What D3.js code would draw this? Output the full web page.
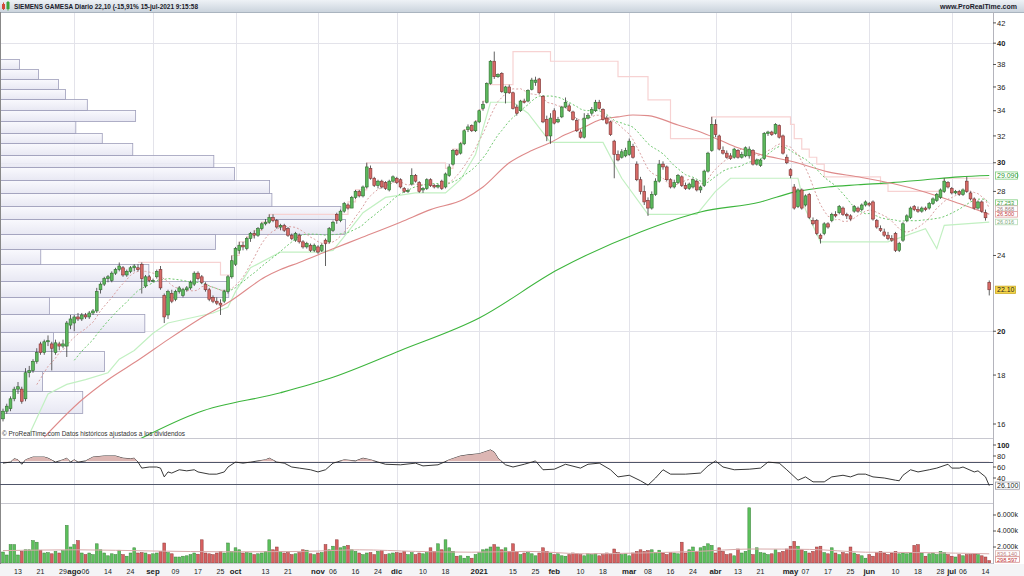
<!DOCTYPE html>
<html><head><meta charset="utf-8">
<script src="https://cdn.jsdelivr.net/npm/d3@7"></script>
<style>
body{margin:0;background:#fff;}
svg{display:block;font-family:"Liberation Sans",Arial,sans-serif;}
</style></head><body>
<svg id="c" width="1024" height="576"></svg>
<script>
// ---------------- DATA ----------------
const titleText = "SIEMENS GAMESA Diario 22,10 (-15,91% 15-jul-2021 9:15:58";
const siteText = "www.ProRealTime.com";
const noteText = "\u00a9 ProRealTime.com  Datos hist\u00f3ricos ajustados a los dividendos";
const holidays = ["2020-12-25","2021-01-01","2021-04-02","2021-04-05"];
const firstDay = "2020-07-07", lastDay = "2021-07-15";

const open = [
16.2,16.5,16.6,17.0,17.4,17.4,17.0,18.1,18.2,18.6,
19.4,19.0,19.5,19.4,19.0,19.4,19.3,19.3,20.3,20.4,
20.7,20.6,20.8,20.7,20.9,21.0,22.1,22.4,22.7,22.6,
23.0,23.2,23.3,22.9,23.1,23.3,23.3,23.5,22.3,22.8,
22.6,22.8,23.2,21.8,20.8,21.9,21.6,22.0,21.8,22.1,
22.2,22.4,23.0,22.8,22.4,22.1,21.7,21.5,21.4,21.5,
22.0,22.8,23.5,24.3,24.6,24.4,25.0,25.3,25.2,25.6,
25.9,26.0,26.3,26.1,25.7,25.8,25.6,25.2,24.9,25.2,
24.8,24.5,24.6,24.3,24.5,24.3,24.9,24.8,25.5,26.5,
26.1,26.7,27.1,26.9,27.6,28.0,27.7,28.3,29.6,28.9,
28.4,28.7,28.6,28.1,28.7,28.9,28.8,28.2,28.0,28.5,
29.1,28.6,28.1,28.2,28.8,28.4,28.3,28.7,28.3,29.1,
29.9,30.9,30.7,31.4,32.5,32.8,32.4,33.1,34.2,34.7,
36.3,38.3,36.9,37.2,35.5,36.0,35.5,34.3,34.0,34.8,
34.8,35.8,36.4,36.7,35.2,33.3,32.0,34.0,33.1,33.5,
34.3,34.4,33.9,33.2,32.3,31.9,33.4,33.8,34.0,34.7,
34.1,33.4,33.1,31.6,30.6,30.4,30.5,30.6,31.2,29.9,
28.8,28.0,27.4,26.9,27.8,28.7,29.9,29.7,28.8,28.3,
28.6,29.0,28.4,28.2,28.3,28.7,28.1,28.4,29.4,30.9,
32.9,32.0,30.9,30.7,30.5,30.4,30.9,30.4,30.5,30.5,
30.9,29.9,29.8,30.3,32.2,32.3,32.2,32.8,32.0,30.4,
29.5,28.3,27.0,28.1,27.1,27.8,26.1,26.1,25.2,25.3,
25.9,26.1,26.5,26.6,26.9,26.5,26.4,26.7,26.9,26.8,
27.1,27.2,27.3,26.1,25.6,25.4,25.2,25.0,25.3,24.3,
24.9,26.1,26.3,27.0,26.8,26.7,26.9,26.9,27.2,27.4,
27.6,28.0,28.6,28.2,27.9,28.0,27.8,28.7,27.9,27.5,
26.9,27.3,26.6,22.5];
const high = [
16.6,16.8,17.1,17.5,17.7,17.5,18.3,18.4,18.7,19.2,
19.5,19.6,19.8,19.5,19.6,19.5,19.6,20.5,20.8,20.8,
20.9,20.9,20.9,21.0,21.1,22.2,22.5,22.8,22.9,23.1,
23.3,23.6,23.4,23.2,23.4,23.5,23.5,23.6,22.9,22.9,
22.7,23.2,23.4,21.9,22.1,22.1,22.1,22.3,22.2,22.3,
22.6,23.1,23.1,22.9,22.5,22.2,21.8,21.7,21.6,22.1,
22.9,24.0,24.5,24.8,24.8,25.1,25.4,25.5,25.7,26.0,
26.2,26.5,26.5,26.2,25.9,25.9,25.7,25.3,25.4,25.3,
24.9,24.8,24.7,24.7,24.6,24.7,25.0,25.7,26.1,26.6,
26.8,27.3,27.2,27.7,28.1,28.1,28.4,30.0,29.8,29.0,
28.8,28.8,28.7,28.8,29.1,29.0,28.9,28.3,28.2,29.6,
29.2,28.7,28.3,28.9,28.9,28.5,28.5,28.8,29.3,29.9,
31.0,31.0,31.5,32.5,32.9,32.9,33.2,34.1,34.8,36.4,
38.4,39.2,37.2,37.3,36.1,36.2,35.6,34.5,34.9,35.0,
35.8,36.8,36.9,36.8,35.3,33.6,33.8,34.2,33.5,34.4,
35.1,34.6,34.0,33.4,32.5,33.8,33.8,34.3,34.9,34.9,
34.2,33.6,33.2,31.7,30.9,31.0,31.1,31.8,31.4,30.1,
29.0,28.4,27.6,28.0,28.9,30.2,30.1,29.8,28.9,28.8,
29.2,29.1,28.6,28.6,28.9,28.8,28.4,29.5,30.8,33.5,
33.3,32.1,31.2,30.9,30.7,31.1,31.0,30.8,31.2,31.2,
31.0,30.3,30.3,32.3,32.4,32.4,33.0,32.9,32.1,30.6,
29.6,28.5,28.2,28.2,27.8,27.9,26.3,26.2,25.3,26.0,
26.0,26.6,26.7,27.1,27.0,26.6,26.5,27.1,27.0,27.2,
27.4,27.3,27.4,26.2,25.8,25.6,25.4,25.2,25.4,24.8,
26.0,26.5,27.0,27.1,27.0,27.0,27.0,27.3,27.6,27.9,
28.2,28.9,28.7,28.3,28.1,28.1,28.2,29.0,28.0,27.6,
27.4,27.4,26.8,22.6];
const low = [
16.1,16.4,16.5,16.9,17.2,16.8,16.9,17.9,18.1,18.5,
18.9,18.9,19.3,18.2,18.9,19.1,19.2,18.8,20.1,20.0,
20.5,20.5,20.6,20.6,20.8,20.9,21.9,22.3,22.5,22.5,
22.9,23.1,22.8,22.8,23.0,23.1,23.1,21.9,22.2,22.5,
22.5,22.7,22.1,20.4,20.6,21.4,21.5,21.9,21.7,22.0,
22.1,22.3,22.6,22.4,22.0,21.5,21.4,21.3,20.8,21.4,
21.9,22.7,23.4,24.1,24.3,24.3,24.8,25.0,25.1,25.5,
25.8,25.9,26.0,25.6,25.5,25.4,25.1,24.9,24.8,24.7,
24.4,24.4,24.2,24.2,24.1,24.2,23.4,24.7,25.4,25.9,
26.0,26.6,26.8,26.9,27.5,27.6,27.6,28.2,28.8,28.3,
28.2,28.2,28.1,28.0,28.6,28.5,28.2,27.9,27.9,28.4,
28.6,27.9,27.9,28.1,28.3,28.2,28.2,28.1,28.2,29.0,
29.8,30.5,30.6,31.3,32.3,32.3,32.3,33.0,34.0,34.6,
36.2,36.7,36.8,35.5,34.6,35.4,34.1,33.6,33.9,34.6,
34.7,35.7,36.1,35.4,33.0,31.6,31.4,32.9,33.0,33.4,
34.2,33.9,33.2,32.3,31.8,31.8,33.3,33.6,33.9,34.1,
33.2,32.9,32.0,28.9,30.1,30.3,30.4,30.5,30.3,28.7,
27.8,27.1,26.4,26.8,27.7,28.6,29.5,28.7,28.2,28.2,
28.5,28.3,28.1,28.1,28.2,28.0,27.9,28.3,29.3,30.8,
31.9,30.9,30.6,30.3,30.2,30.3,30.3,30.3,30.4,30.3,
29.8,29.8,29.7,30.2,32.0,32.0,32.1,31.8,30.6,29.9,
28.9,26.8,26.9,26.8,27.0,26.2,25.8,25.2,24.7,25.2,
25.6,26.0,26.3,26.5,26.4,26.2,26.1,26.6,26.6,26.7,
27.0,27.0,26.1,25.6,25.4,25.1,24.9,24.8,24.2,24.2,
24.8,26.0,26.2,26.7,26.6,26.6,26.7,26.8,27.1,27.3,
27.5,27.9,28.2,27.8,27.8,27.7,27.7,27.9,27.4,26.8,
26.8,26.6,26.1,21.8];
const close = [
16.5,16.7,17.0,17.4,17.5,16.9,18.1,18.2,18.6,19.0,
19.0,19.5,19.55,19.2,19.45,19.3,19.4,20.4,20.6,20.7,
20.6,20.8,20.7,20.9,21.0,22.0,22.4,22.7,22.8,23.0,
23.2,23.4,22.9,23.1,23.3,23.4,23.2,22.7,22.8,22.6,
22.6,23.1,22.2,20.7,22.0,21.5,22.0,22.2,22.1,22.2,
22.5,23.0,22.7,22.5,22.1,21.6,21.5,21.4,21.3,22.0,
22.8,23.7,24.4,24.6,24.5,25.0,25.3,25.2,25.6,25.9,
26.0,26.3,26.1,25.7,25.8,25.5,25.2,25.0,25.3,24.8,
24.5,24.7,24.3,24.6,24.2,24.6,24.7,25.6,26.0,26.1,
26.7,27.2,26.9,27.6,28.0,27.7,28.3,29.7,28.9,28.4,
28.7,28.3,28.2,28.7,29.0,28.6,28.3,28.0,28.05,29.1,
28.7,28.0,28.2,28.8,28.4,28.3,28.4,28.2,29.2,29.7,
30.9,30.6,31.4,32.4,32.7,32.4,33.1,34.0,34.5,36.3,
38.3,36.9,37.1,35.6,36.0,35.5,34.2,33.8,34.8,34.7,
35.7,36.6,36.6,35.5,33.1,32.0,33.4,33.0,33.3,34.3,
34.7,34.0,33.3,32.4,31.9,33.4,33.6,34.1,34.7,34.2,
33.3,33.0,32.1,30.6,30.2,30.8,30.9,31.6,30.4,28.8,
28.0,27.3,26.9,27.8,28.7,29.9,29.7,28.8,28.3,28.6,
29.1,28.4,28.2,28.5,28.8,28.1,28.3,29.4,30.7,32.9,
32.1,31.0,30.7,30.4,30.3,31.0,30.4,30.6,31.1,31.0,
29.9,30.2,30.2,32.2,32.3,32.1,32.9,31.9,30.7,30.0,
29.1,26.9,28.1,26.9,27.7,26.3,25.9,25.3,25.0,25.9,
25.7,26.5,26.4,27.0,26.5,26.4,26.2,27.0,26.7,27.1,
27.3,27.1,26.2,25.7,25.5,25.2,25.0,24.9,24.3,24.7,
25.9,26.4,26.9,26.8,26.7,26.9,26.8,27.2,27.5,27.8,
28.1,28.7,28.3,27.9,28.0,27.8,28.1,28.0,27.5,26.9,
27.3,26.7,26.28,22.1];
// volume in thousands
const volume = [
1370,1000,2300,2300,1000,1450,1650,1650,2800,2600,
1600,1250,1300,1150,1450,1250,1550,4700,2000,2300,
2800,1250,1050,1250,1050,2400,1650,1250,900,1150,
1050,1600,1050,850,1250,1900,1250,1300,1250,1050,
1150,1250,1450,2500,1300,1150,750,750,850,900,
1050,1250,1100,2900,1250,1150,1050,1250,1450,1250,
2500,1450,1900,1650,1250,1300,1250,1050,1150,1250,
1450,2900,1650,2000,1450,1250,1300,1050,1150,1300,
1650,1600,1150,1050,1250,1300,2300,1650,2100,2900,
1900,2100,2200,1650,1450,1250,1050,1250,1300,1050,
1450,1550,1050,1150,1250,1300,1250,1450,1050,1300,
1050,1250,1150,1300,1900,1450,2400,1650,2900,1900,
1450,850,900,600,850,600,1050,1300,1650,1750,
2000,2300,2000,1650,1900,1450,2400,1450,1050,1250,
1300,1150,900,1250,1900,1450,1250,1050,1150,900,
850,1050,1250,1150,1050,900,1150,1050,1150,900,
1050,1250,1050,1750,1300,1050,1150,900,1250,1450,
1650,1450,1550,1650,1300,1600,1250,1050,1300,1250,
1150,2600,1250,1650,2000,1450,1900,2100,2400,2200,
1250,1900,1450,1050,1150,900,1750,1250,1450,6900,
1050,1900,1300,1250,1050,1150,1650,1300,1450,1750,
2100,2700,2100,1650,1450,1250,1450,2000,2100,1300,
1150,1900,1250,1050,1300,1150,2000,1250,1050,900,
600,1050,850,1300,1450,1250,1050,1250,1450,1150,
1250,1150,1250,2200,2300,1250,850,1150,1250,1050,
1450,1300,1050,850,750,1050,900,1050,1050,1150,
1050,900,750,298.597];

// Moving averages: [bar index, value]
const ma50Pts = [[11,15.5],[21,16.95],[28,17.8],[36,18.65],[44,19.6],[52,20.55],[61,21.55],[70,22.8],[74,23.2],[79,23.6],[87,24.3],[95,25.0],[106,26.0],[114,26.8],[123,27.5],[128,28.3],[135,30.0],[141,30.9],[146,31.5],[150,32.1],[155,32.7],[159,33.25],[164,33.5],[168,33.65],[172,33.6],[180,32.85],[186,32.3],[191,31.7],[196,31.1],[202,30.6],[211,30.05],[220,29.35],[228,29.0],[237,28.55],[246,27.95],[255,27.2],[263,26.5]];
const ma200Pts = [[36,15.4],[52,16.45],[74,17.25],[87,17.85],[106,19.1],[127,20.65],[148,23.2],[170,25.4],[186,26.65],[202,27.3],[211,27.95],[220,28.3],[228,28.45],[237,28.6],[246,28.8],[255,29.0],[263,29.09]];
const upperPts = [[36,23.6],[58,22.9],[61,24.0],[63,24.8],[65,25.1],[67,25.5],[69,26.0],[71,26.5],[91,26.5],[92,27.3],[94,28.1],[97,30.0],[117,30.0],[118,29.6],[120,31.0],[122,31.5],[123,32.5],[126,33.2],[127,34.1],[128,34.8],[129,36.2],[136,39.2],[145,39.2],[146,38.3],[163,38.3],[164,36.9],[171,36.9],[172,34.9],[177,34.9],[178,31.8],[188,31.8],[189,33.5],[209,33.5],[210,32.9],[211,31.8],[213,31.0],[215,30.4],[217,29.9],[219,29.0],[233,29.0],[234,28.5],[236,28.0],[250,28.0],[251,28.9],[263,28.9]];
const lowerPts = [[7,15.6],[12,17.2],[17,17.6],[22,17.8],[28,18.1],[31,18.7],[35,19.1],[40,19.9],[44,20.4],[56,20.9],[60,21.2],[62,22.0],[66,23.3],[74,24.2],[84,24.2],[88,24.3],[92,25.4],[96,26.6],[102,27.6],[110,27.9],[118,27.9],[122,28.8],[126,30.6],[130,34.7],[136,34.7],[140,33.8],[146,31.5],[160,31.5],[165,28.9],[172,26.5],[185,26.5],[190,28.0],[194,28.9],[212,28.9],[214,26.8],[218,24.8],[236,24.8],[246,25.6],[249,24.4],[251,25.8],[263,26.0]];
const rsiPts = [[0,67],[2,69],[3,75],[4,73],[5,65],[6,73],[8,78],[11,78],[12,76],[14,69],[16,73],[17,76],[18,69],[19,73],[20,69],[22,71],[24,78],[27,80],[30,80],[32,76],[34,75],[35,76],[36,69],[37,58],[39,60],[41,60],[42,58],[43,42],[44,51],[45,49],[47,55],[49,53],[51,55],[52,51],[55,47],[57,47],[59,51],[60,60],[62,69],[64,67],[66,69],[68,71],[70,73],[71,76],[73,69],[75,67],[77,60],[79,58],[82,55],[84,51],[86,55],[88,67],[91,73],[94,71],[96,76],[98,73],[102,65],[106,64],[110,67],[112,62],[116,64],[119,73],[122,80],[124,82],[127,84],[130,91],[131,87],[132,76],[134,64],[136,60],[139,65],[142,71],[144,55],[147,56],[150,65],[154,58],[156,65],[159,67],[162,55],[164,42],[167,45],[170,35],[172,27],[174,40],[176,55],[178,47],[182,47],[186,49],[188,62],[190,71],[192,60],[195,55],[199,56],[202,58],[204,69],[207,67],[209,55],[212,36],[214,42],[216,33],[219,33],[221,42],[224,45],[226,42],[228,47],[230,47],[232,42],[235,40],[238,36],[239,35],[240,45],[242,55],[244,51],[247,55],[249,58],[252,65],[253,58],[255,58],[256,60],[259,51],[260,53],[262,42],[263,26.1]];
const volMaPts = [[0,1550],[20,1650],[40,1500],[60,1400],[80,1450],[95,1650],[110,1450],[125,1350],[140,1450],[155,1150],[170,1250],[185,1450],[200,1750],[215,1700],[230,1350],[245,1300],[263,1150]];

// Volume profile: price bin edges and volume (millions)
const profEdges = [16.43,17.32,18.18,19.07,19.96,20.85,21.72,22.57,23.51,24.38,25.27,26.2,27.03,27.9,28.78,29.7,30.57,31.46,32.23,33.17,34.06,34.97,35.82,36.7,37.59,38.5];
const profVol = [14.3,7.3,18.1,9.2,25.1,8.5,39.7,25.8,7.0,37.4,60.0,59.2,47.2,46.8,40.7,37.1,23.0,17.7,13.1,23.5,15.1,11.3,10.1,6.6,3.3];

const xTickDates = ["2020-07-13","2020-07-21","2020-07-29","2020-08-03","2020-08-06","2020-08-14","2020-08-24","2020-09-01","2020-09-09","2020-09-17","2020-09-25","2020-10-01","2020-10-13","2020-10-21","2020-11-02","2020-11-06","2020-11-16","2020-11-24","2020-12-01","2020-12-10","2020-12-18","2021-01-04","2021-01-15","2021-01-25","2021-02-01","2021-02-10","2021-02-18","2021-03-01","2021-03-08","2021-03-16","2021-03-24","2021-04-01","2021-04-13","2021-04-21","2021-05-03","2021-05-07","2021-05-17","2021-05-25","2021-06-01","2021-06-10","2021-06-18","2021-06-28","2021-07-01","2021-07-06","2021-07-14"];
const xTickLabels = ["13","21","29","ago","06","14","24","sep","09","17","25","oct","13","21","nov","06","16","24","dic","10","18","2021","15","25","feb","10","18","mar","08","16","24","abr","13","21","may","07","17","25","jun","10","18","28","jul","06","14"];
// 22 and 26 are hidden behind the value boxes in the reference
const priceTicks = [16,18,20,24,28,30,32,34,36,38,40,42];
const priceGrid = [20,30,40];
const rsiTicks = [100,80,60,40];
const rsiLevels = [70,30];
const volTicks = [6000,4000,2000];
const volTickLabels = ["6.000k","4.000k","2.000k"];
const priceLabelValues = [29.090,27.253,26.868,26.500,26.016];
const priceLabelTexts = ["29.090","27.253","26.868","26.500","26.016"];
const lastPrice = 22.10, lastPriceText = "22.10";
const rsiLast = 26.1, rsiLastText = "26.100";
const volMaLastText = "836.140", volLastText = "298.597";

// ---------------- CHART ----------------
const svg = d3.select("#c");
const defs = svg.append("defs");
const parse = d3.utcParse("%Y-%m-%d"), fmt = d3.utcFormat("%Y-%m-%d");
const dates = d3.utcDays(parse(firstDay), d3.utcDay.offset(parse(lastDay),1))
  .filter(d => d.getUTCDay()%6 !== 0 && !holidays.includes(fmt(d))).map(fmt);

const AX = 993;
const x = d3.scaleBand().domain(dates).range([1.125, 991.125]);
const cx = i => x(dates[i]) + x.bandwidth()/2;
const cxd = d => x(d) + x.bandwidth()/2;
const y = d3.scaleLog().domain([16,42]).range([424, 22.9]);
const yR = d3.scaleLinear().domain([0,100]).range([500,445]);
const yV = d3.scaleLinear().domain([0,6000]).range([563,515]);
const xP = d3.scaleLinear().domain([0,60]).range([0,345]);

function grad(id, c1, c2){
  const g = defs.append("linearGradient").attr("id",id).attr("x1",0).attr("y1",0).attr("x2",0).attr("y2",1);
  g.append("stop").attr("offset",0).attr("stop-color",c1);
  g.append("stop").attr("offset",1).attr("stop-color",c2);
}
grad("tg","#eef2f6","#cbd4dd");
grad("pg","#f8f8fd","#e4e4f1");
function clip(id,x0,y0,w,h){ defs.append("clipPath").attr("id",id).append("rect").attr("x",x0).attr("y",y0).attr("width",w).attr("height",h); }
clip("cm",0,12,AX,426);
clip("cr",0,438,AX,65);
clip("crf",0,438,AX,yR(70)-438);
clip("cv",0,503,AX,60);

svg.append("rect").attr("width",1024).attr("height",576).attr("fill","#fff");

// title bar
svg.append("rect").attr("x",0).attr("y",0).attr("width",1024).attr("height",12).attr("fill","url(#tg)");
svg.append("line").attr("x1",0).attr("x2",1024).attr("y1",12.5).attr("y2",12.5).attr("stroke","#aab4bf");
svg.append("rect").attr("x",2).attr("y",4).attr("width",3).attr("height",5).attr("fill","#d24a3a");
svg.append("line").attr("x1",3.5).attr("x2",3.5).attr("y1",2.5).attr("y2",10).attr("stroke","#d24a3a");
svg.append("rect").attr("x",6.5).attr("y",2).attr("width",3).attr("height",7).attr("fill","#3aa33a");
svg.append("line").attr("x1",8).attr("x2",8).attr("y1",1).attr("y2",10.5).attr("stroke","#3aa33a");
svg.append("text").attr("x",14).attr("y",9).attr("font-size",7.6).attr("font-weight","bold").attr("fill","#1a1a2a")
  .attr("textLength",184).attr("lengthAdjust","spacingAndGlyphs").text(titleText);
svg.append("text").attr("x",940).attr("y",9).attr("font-size",7.6).attr("font-weight","bold").attr("fill","#1a1a2a")
  .attr("textLength",77).attr("lengthAdjust","spacingAndGlyphs").text(siteText);

// grid
const monthDates = xTickDates.filter((d,i)=>!/^\d\d$/.test(xTickLabels[i]));
const gGrid = svg.append("g").attr("stroke","#e3e3ea").attr("stroke-width",1);
monthDates.forEach(d=>{
  const xx = Math.round(cxd(d))+0.5;
  gGrid.append("line").attr("x1",xx).attr("x2",xx).attr("y1",13).attr("y2",563);
});
priceGrid.forEach(p=>{
  const yy = Math.round(y(p))+0.5;
  gGrid.append("line").attr("x1",0).attr("x2",AX).attr("y1",yy).attr("y2",yy);
});

// volume profile
const gMain = svg.append("g").attr("clip-path","url(#cm)");
gMain.append("g").selectAll("rect").data(profVol).join("rect")
  .attr("x",0.5).attr("y",(v,k)=>y(profEdges[k+1])+0.5)
  .attr("width",v=>xP(v)).attr("height",(v,k)=>y(profEdges[k])-y(profEdges[k+1]))
  .attr("fill","url(#pg)").attr("fill-opacity",0.85).attr("stroke","#9d9dba").attr("stroke-width",0.8);

// indicator lines
const lineIdx = d3.line().x(d=>cx(d[0])).y(d=>y(d[1]));
gMain.append("path").attr("d",lineIdx.curve(d3.curveStepAfter)(upperPts)).attr("fill","none").attr("stroke","#f7d2d2").attr("stroke-width",1.2);
gMain.append("path").attr("d",d3.line().x(d=>cx(d[0])).y(d=>y(d[1]))(lowerPts)).attr("fill","none").attr("stroke","#c2f0c2").attr("stroke-width",1.2);
const smooth = d3.line().x(d=>cx(d[0])).y(d=>y(d[1])).curve(d3.curveMonotoneX);
gMain.append("path").attr("d",smooth(ma200Pts)).attr("fill","none").attr("stroke","#3db53d").attr("stroke-width",1.1);
gMain.append("path").attr("d",smooth(ma50Pts)).attr("fill","none").attr("stroke","#de8a8a").attr("stroke-width",1.1);
function sma(n){ return close.map((c,i)=> i<n-1 ? null : [i, d3.mean(close.slice(i-n+1,i+1))]).filter(d=>d); }
const ln = d3.line().x(d=>cx(d[0])).y(d=>y(d[1]));
gMain.append("path").attr("d",ln(sma(20))).attr("fill","none").attr("stroke","#6fc86f").attr("stroke-width",1).attr("stroke-dasharray","2,2");
gMain.append("path").attr("d",ln(sma(10))).attr("fill","none").attr("stroke","#d9a0a0").attr("stroke-width",1).attr("stroke-dasharray","2,2");

// candles
const idx = d3.range(dates.length);
const up = i => close[i] >= open[i];
const gC = gMain.append("g");
gC.selectAll("line").data(idx).join("line")
  .attr("x1",i=>cx(i)).attr("x2",i=>cx(i))
  .attr("y1",i=>y(Math.max(high[i],open[i],close[i]))).attr("y2",i=>y(Math.min(low[i],open[i],close[i])))
  .attr("stroke","#3a3a3a").attr("stroke-width",0.8);
gC.selectAll("rect").data(idx).join("rect")
  .attr("x",i=>cx(i)-1.4).attr("width",2.8)
  .attr("y",i=>y(Math.max(open[i],close[i])))
  .attr("height",i=>Math.max(0.8, y(Math.min(open[i],close[i]))-y(Math.max(open[i],close[i]))))
  .attr("fill",i=>up(i)?"#5cb85c":"#d66a66")
  .attr("stroke",i=>up(i)?"#2f6e2f":"#7a3434").attr("stroke-width",0.6);

svg.append("text").attr("x",2).attr("y",436).attr("font-size",7.5).attr("fill","#333")
  .attr("textLength",183).attr("lengthAdjust","spacingAndGlyphs").text(noteText);

// panel separators
[438.5,503.5,563.5].forEach(yy=>svg.append("line").attr("x1",0).attr("x2",AX).attr("y1",yy).attr("y2",yy).attr("stroke","#c8c8d0"));
svg.append("rect").attr("x",0).attr("y",564).attr("width",1024).attr("height",12).attr("fill","#f4f4f6");
svg.append("line").attr("x1",0.5).attr("x2",0.5).attr("y1",12).attr("y2",564).attr("stroke","#888");

// RSI
const gR = svg.append("g").attr("clip-path","url(#cr)");
rsiLevels.forEach(v=>gR.append("line").attr("x1",0).attr("x2",AX).attr("y1",Math.round(yR(v))+0.5).attr("y2",Math.round(yR(v))+0.5).attr("stroke","#50566a").attr("stroke-width",1));
const rArea = d3.area().x(d=>cx(d[0])).y0(yR(70)).y1(d=>yR(d[1]));
svg.append("path").attr("clip-path","url(#crf)").attr("d",rArea(rsiPts)).attr("fill","#dcb6b3");
gR.append("path").attr("d",d3.line().x(d=>cx(d[0])).y(d=>yR(d[1]))(rsiPts)).attr("fill","none").attr("stroke","#222").attr("stroke-width",0.9);

// Volume
const gV = svg.append("g").attr("clip-path","url(#cv)");
gV.selectAll("rect").data(idx).join("rect")
  .attr("x",i=>cx(i)-1.4).attr("width",2.8)
  .attr("y",i=>yV(volume[i])).attr("height",i=>yV(0)-yV(volume[i]))
  .attr("fill",i=>up(i)?"#5cc05c":"#d86060")
  .attr("stroke",i=>up(i)?"#3a803a":"#8a3a3a").attr("stroke-width",0.5);
gV.append("path").attr("d",d3.line().x(d=>cx(d[0])).y(d=>yV(d[1])).curve(d3.curveMonotoneX)(volMaPts)).attr("fill","none").attr("stroke","#d8aaaa").attr("stroke-width",1);

// x axis labels
svg.append("g").selectAll("text").data(xTickDates).join("text")
  .attr("x",d=>cxd(d)).attr("y",574).attr("text-anchor","middle")
  .attr("font-size",(d,i)=>/^\d\d$/.test(xTickLabels[i])?7:7.8)
  .attr("font-weight",(d,i)=>/^\d\d$/.test(xTickLabels[i])?"normal":"bold")
  .attr("fill","#222").text((d,i)=>xTickLabels[i]);

// right axis
svg.append("line").attr("x1",AX+0.5).attr("x2",AX+0.5).attr("y1",12).attr("y2",564).attr("stroke","#b4b4bc");
const gA = svg.append("g").attr("font-size",7.5).attr("fill","#222");
priceTicks.forEach(p=>{
  const yy=y(p);
  gA.append("line").attr("x1",AX).attr("x2",AX+3).attr("y1",yy).attr("y2",yy).attr("stroke","#555");
  gA.append("text").attr("x",997).attr("y",yy+2.7).attr("font-weight",p%10===0?"bold":"normal").text(p);
});
rsiTicks.forEach(v=>{
  const yy=yR(v);
  gA.append("line").attr("x1",AX).attr("x2",AX+3).attr("y1",yy).attr("y2",yy).attr("stroke","#555");
  gA.append("text").attr("x",997).attr("y",yy+2.7).attr("font-weight",v===100?"bold":"normal").text(v);
});
volTicks.forEach((v,k)=>{
  const yy=yV(v);
  gA.append("line").attr("x1",AX).attr("x2",AX+3).attr("y1",yy).attr("y2",yy).attr("stroke","#555");
  gA.append("text").attr("x",997).attr("y",yy+2.4).attr("font-size",7).text(volTickLabels[k]);
});

function box(yc, txt, fill, stroke, color, w, h, fs){
  h = h||7.2; fs = fs||7;
  const g = svg.append("g");
  g.append("rect").attr("x",995.5).attr("y",yc-h/2).attr("width",w||22).attr("height",h).attr("fill",fill).attr("stroke",stroke).attr("stroke-width",0.8);
  g.append("text").attr("x",997).attr("y",yc+fs*0.36).attr("font-size",fs).attr("fill",color).text(txt);
}
const lblStyles = [["#fff","#7ccc7c","#2f9a2f"],["#fff","#7ccc7c","#2f9a2f"],["#fff","#d4b4b4","#9a7a7a"],["#fff","#e0a0a0","#c03a3a"],["#fff","#b6dcb6","#7aa87a"]];
priceLabelValues.forEach((v,k)=>box(y(v), priceLabelTexts[k], lblStyles[k][0], lblStyles[k][1], lblStyles[k][2], 22, k===0?7.2:5.6, k===0?7:5.6));
box(y(lastPrice), lastPriceText, "#f6d64a", "#c9a820", "#222", 20);
box(yR(rsiLast), rsiLastText, "#fff", "#9a9aa4", "#222", 24);
box(553.5, volMaLastText, "#fff", "#d8b0b0", "#c08080", 24, 5.6, 5.6);
box(559.5, volLastText, "#fff", "#d89090", "#c03030", 24, 5.6, 5.6);
</script>
</body></html>
